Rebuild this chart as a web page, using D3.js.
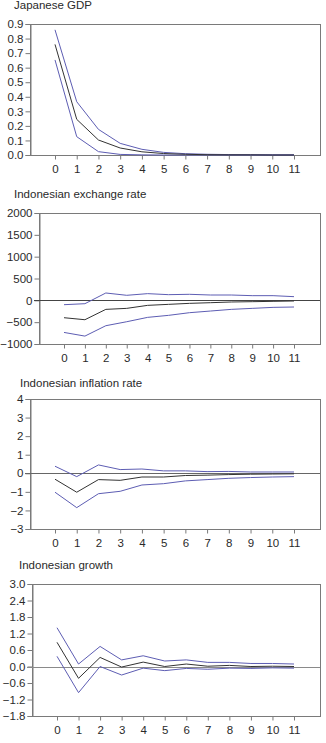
<!DOCTYPE html>
<html>
<head>
<meta charset="utf-8">
<script src="https://d3js.org/d3.v7.min.js"></script>
<style>
  body { margin: 0; background: #fff; }
  svg text { font-family: "Liberation Sans", Arial, sans-serif; font-size: 11px; fill: #2a2a2a; }
</style>
</head>
<body>
<div id="container"></div>
<script>
// horizon steps
var steps = [0, 1, 2, 3, 4, 5, 6, 7, 8, 9, 10, 11];

// Japanese GDP
var gdpUpper = [0.86, 0.366, 0.176, 0.08, 0.039, 0.018, 0.009, 0.005, 0.003, 0.002, 0.001, 0.001];
var gdpMid   = [0.76, 0.245, 0.103, 0.048, 0.022, 0.01, 0.005, 0.002, 0.001, 0.001, 0.0, 0.0];
var gdpLower = [0.653, 0.126, 0.023, 0.004, 0.001, 0.0, 0.0, 0.0, 0.0, 0.0, 0.0, 0.0];
var gdpTicks = [0, 0.1, 0.2, 0.3, 0.4, 0.5, 0.6, 0.7, 0.8, 0.9];

// Indonesian exchange rate
var fxUpper = [-100, -77, 168, 115, 153, 130, 138, 122, 122, 107, 107, 84];
var fxMid   = [-398, -444, -207, -184, -115, -92, -69, -54, -38, -31, -23, -15];
var fxLower = [-735, -819, -581, -490, -390, -344, -283, -245, -207, -184, -161, -153];
var fxTicks = [-1000, -500, 0, 500, 1000, 1500, 2000];

// Indonesian inflation rate
var infUpper = [0.38, -0.18, 0.45, 0.2, 0.23, 0.13, 0.13, 0.09, 0.1, 0.07, 0.07, 0.07];
var infMid   = [-0.32, -1.02, -0.34, -0.38, -0.2, -0.2, -0.12, -0.1, -0.07, -0.05, -0.04, -0.03];
var infLower = [-1.02, -1.85, -1.1, -0.97, -0.63, -0.56, -0.41, -0.34, -0.27, -0.23, -0.2, -0.18];
var infTicks = [-3, -2, -1, 0, 1, 2, 3, 4];

// Indonesian growth
var grUpper = [1.41, 0.09, 0.73, 0.24, 0.39, 0.2, 0.24, 0.15, 0.15, 0.11, 0.11, 0.09];
var grMid   = [0.88, -0.43, 0.33, -0.02, 0.16, 0.0, 0.09, 0.01, 0.04, 0.0, 0.01, 0.0];
var grLower = [0.37, -0.95, 0.0, -0.31, -0.06, -0.15, -0.07, -0.1, -0.06, -0.07, -0.05, -0.06];
var grTicks = [-1.8, -1.2, -0.6, 0, 0.6, 1.2, 1.8, 2.4, 3.0];

var width = 326, height = 743;
var bandColor = "#5d5db3", midColor = "#333", frameColor = "#7a7a7a";

var svg = d3.select("#container").append("svg")
  .attr("width", width).attr("height", height);

var panels = [
  { title: "Japanese GDP", titleX: 14, titleY: 5, top: 24, bottom: 155, left: 30, right: 320,
    ticks: gdpTicks, fmt: d3.format(".1f"), zeroLine: null,
    series: [gdpUpper, gdpLower], mid: gdpMid },
  { title: "Indonesian exchange rate", titleX: 14, titleY: 194, top: 213, bottom: 344, left: 39, right: 320,
    ticks: fxTicks, fmt: d3.format("d"), zeroLine: "#444",
    series: [fxUpper, fxLower], mid: fxMid },
  { title: "Indonesian inflation rate", titleX: 20, titleY: 383, top: 399, bottom: 529, left: 30, right: 320,
    ticks: infTicks, fmt: d3.format("d"), zeroLine: "#666",
    series: [infUpper, infLower], mid: infMid },
  { title: "Indonesian growth", titleX: 19, titleY: 565, top: 584, bottom: 716, left: 32, right: 320,
    ticks: grTicks, fmt: d3.format(".1f"), zeroLine: "#8a8a8a",
    series: [grUpper, grLower], mid: grMid }
];

panels.forEach(function(p) {
  var g = svg.append("g");

  var x = d3.scaleLinear().domain([0, 11]).range([p.left + 25, p.right - 26]);
  var y = d3.scaleLinear().domain(d3.extent(p.ticks)).range([p.bottom, p.top]);

  g.append("text")
    .attr("x", p.titleX).attr("y", p.titleY)
    .attr("dy", "0.35em")
    .style("font-size", "11.5px")
    .text(p.title);

  // frame
  g.append("rect")
    .attr("x", p.left + 0.5).attr("y", p.top + 0.5)
    .attr("width", p.right - p.left).attr("height", p.bottom - p.top)
    .attr("fill", "none").attr("stroke", frameColor).attr("stroke-width", 1);

  // y axis
  var yAxis = d3.axisLeft(y).tickValues(p.ticks).tickFormat(p.fmt).tickSize(5).tickPadding(2);
  var ya = g.append("g").attr("transform", "translate(" + (p.left + 0.5) + ",0)").call(yAxis);
  ya.select(".domain").attr("stroke", frameColor);
  ya.selectAll(".tick line").attr("stroke", frameColor);
  ya.selectAll(".tick text").style("font-size", "11.5px").attr("fill", "#2a2a2a");

  // x axis
  var xAxis = d3.axisBottom(x).tickValues(steps).tickFormat(d3.format("d")).tickSize(4).tickPadding(5);
  var xa = g.append("g").attr("transform", "translate(0," + (p.bottom + 0.5) + ")").call(xAxis);
  xa.select(".domain").remove();
  xa.selectAll(".tick line").attr("stroke", frameColor);
  xa.selectAll(".tick text").style("font-size", "11.5px").attr("fill", "#2a2a2a");

  // zero line
  if (p.zeroLine) {
    g.append("line")
      .attr("x1", p.left - 5).attr("x2", p.right)
      .attr("y1", Math.round(y(0)) + 0.5).attr("y2", Math.round(y(0)) + 0.5)
      .attr("stroke", p.zeroLine).attr("stroke-width", 1.2);
  }

  var line = d3.line()
    .x(function(d, i) { return x(steps[i]); })
    .y(function(d) { return y(d); });

  p.series.forEach(function(s) {
    g.append("path").datum(s)
      .attr("d", line)
      .attr("fill", "none").attr("stroke", bandColor).attr("stroke-width", 1);
  });

  g.append("path").datum(p.mid)
    .attr("d", line)
    .attr("fill", "none").attr("stroke", midColor).attr("stroke-width", 1);
});
</script>
</body>
</html>
